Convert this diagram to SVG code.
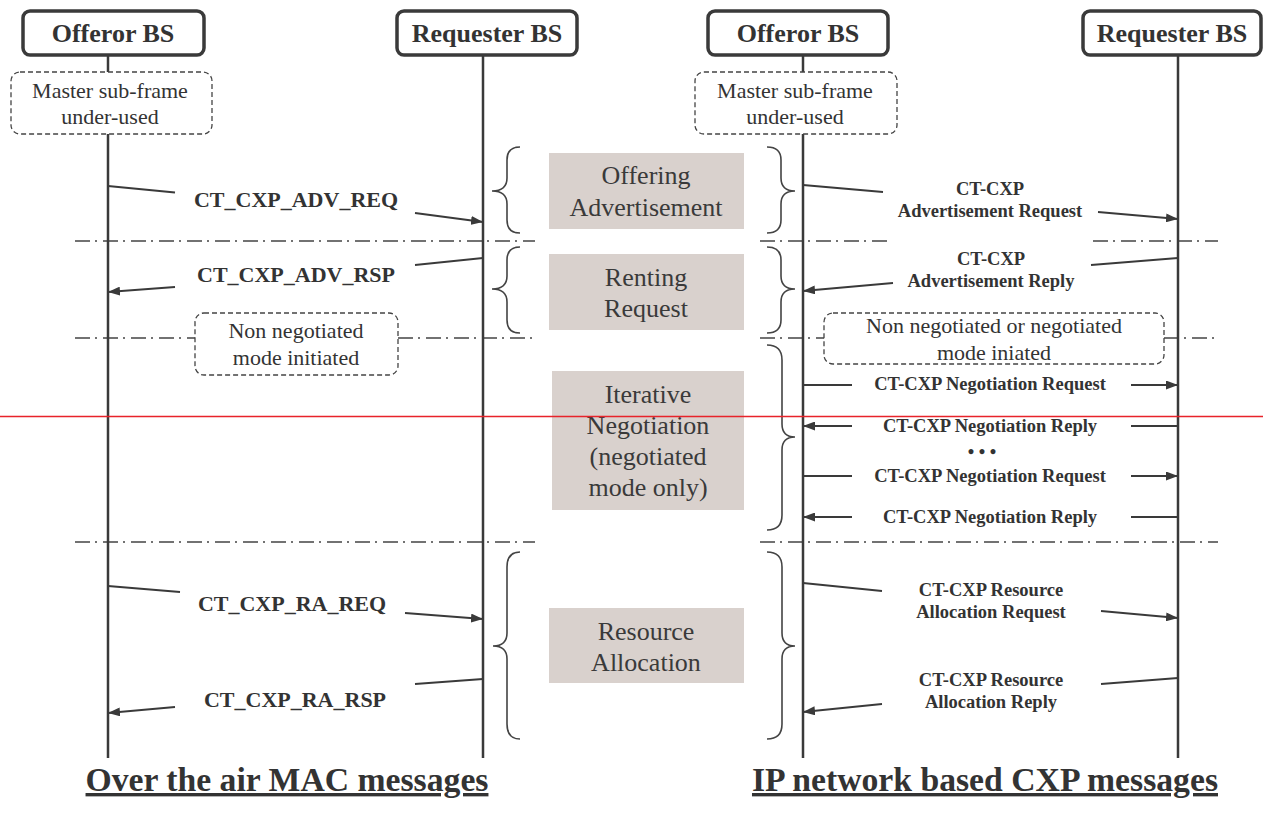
<svg xmlns="http://www.w3.org/2000/svg" width="1263" height="814" viewBox="0 0 1263 814">
<style>
.hdr{fill:#fff;stroke:#3a3a3a;stroke-width:3.5}
.hdrt{font-family:"Liberation Serif",serif;font-weight:bold;font-size:26px;fill:#333;text-anchor:middle}
.life{stroke:#3a3a3a;stroke-width:2.5;fill:none}
.note{fill:#fff;stroke:#444;stroke-width:1.3;stroke-dasharray:5 3}
.notet{font-family:"Liberation Serif",serif;font-size:22px;fill:#333;text-anchor:middle}
.sep{stroke:#444;stroke-width:1.5;stroke-dasharray:15 5 2 6;fill:none}
.brace{stroke:#444;stroke-width:1.6;fill:none}
.phase{fill:#d9d1cd}
.phaset{font-family:"Liberation Serif",serif;font-size:26px;fill:#3a3a3a;text-anchor:middle}
.msg{stroke:#3a3a3a;stroke-width:1.8;fill:none}
.ml{font-family:"Liberation Serif",serif;font-weight:bold;font-size:22px;fill:#333;text-anchor:middle}
.mr{font-family:"Liberation Serif",serif;font-weight:bold;font-size:18.5px;fill:#333;text-anchor:middle}
.title{font-family:"Liberation Serif",serif;font-weight:bold;font-size:33.7px;fill:#333;text-anchor:middle;text-decoration:underline}
</style>
<defs>
<marker id="ah" markerWidth="13" markerHeight="9" refX="12" refY="4.5" orient="auto" markerUnits="userSpaceOnUse"><path d="M0,0 L12,4.5 L0,9 z" fill="#3a3a3a"/></marker>
</defs>
<rect width="1263" height="814" fill="#fff"/>

<g id="separators">
<line class="sep" x1="75" y1="241" x2="535" y2="241"/>
<line class="sep" x1="760" y1="241" x2="892" y2="241"/>
<line class="sep" x1="1093" y1="241" x2="1218" y2="241"/>
<line class="sep" x1="75" y1="338" x2="195" y2="338"/>
<line class="sep" x1="398" y1="338" x2="535" y2="338"/>
<line class="sep" x1="760" y1="338" x2="824" y2="338"/>
<line class="sep" x1="1164" y1="338" x2="1218" y2="338"/>
<line class="sep" x1="75" y1="542" x2="535" y2="542"/>
<line class="sep" x1="760" y1="542" x2="1218" y2="542"/>
</g>

<g id="lifelines">
<line class="life" x1="108" y1="55" x2="108" y2="72"/>
<line class="life" x1="108" y1="134" x2="108" y2="758"/>
<line class="life" x1="483" y1="55" x2="483" y2="758"/>
<line class="life" x1="803" y1="55" x2="803" y2="72"/>
<line class="life" x1="803" y1="134" x2="803" y2="758"/>
<line class="life" x1="1178" y1="55" x2="1178" y2="758"/>
</g>

<g id="offeror-bs-left"><rect class="hdr" x="23" y="11" width="181" height="44" rx="7"/><text class="hdrt" x="113" y="42">Offeror BS</text></g>
<g id="requester-bs-left"><rect class="hdr" x="397" y="11" width="180" height="44" rx="7"/><text class="hdrt" x="487" y="42">Requester BS</text></g>
<g id="offeror-bs-right"><rect class="hdr" x="708" y="11" width="180" height="44" rx="7"/><text class="hdrt" x="798" y="42">Offeror BS</text></g>
<g id="requester-bs-right"><rect class="hdr" x="1083" y="11" width="178" height="44" rx="7"/><text class="hdrt" x="1172" y="42">Requester BS</text></g>

<g id="note-master-left"><rect class="note" x="11" y="72" width="201" height="62" rx="9"/><text class="notet" x="110" y="98">Master sub-frame</text><text class="notet" x="110" y="124">under-used</text></g>
<g id="note-master-right"><rect class="note" x="695" y="72" width="202" height="62" rx="9"/><text class="notet" x="795" y="98">Master sub-frame</text><text class="notet" x="795" y="124">under-used</text></g>
<g id="note-nonneg-left"><rect class="note" x="195" y="313" width="203" height="62" rx="9"/><text class="notet" x="296" y="338" font-size="23">Non negotiated</text><text class="notet" x="296" y="365" font-size="23">mode initiated</text></g>
<g id="note-nonneg-right"><rect class="note" x="824" y="313" width="340" height="51" rx="9"/><text class="notet" x="994" y="333" font-size="23">Non negotiated or negotiated</text><text class="notet" x="994" y="360" font-size="23">mode iniated</text></g>

<g id="phase-offering"><rect class="phase" x="549" y="153" width="195" height="76"/><text class="phaset" x="646" y="184">Offering</text><text class="phaset" x="646" y="216">Advertisement</text></g>
<g id="phase-renting"><rect class="phase" x="549" y="254" width="195" height="76"/><text class="phaset" x="646" y="286">Renting</text><text class="phaset" x="646" y="317">Request</text></g>
<g id="phase-negotiation"><rect class="phase" x="552" y="371" width="192" height="139"/><text class="phaset" x="648" y="403">Iterative</text><text class="phaset" x="648" y="434">Negotiation</text><text class="phaset" x="648" y="465">(negotiated</text><text class="phaset" x="648" y="496">mode only)</text></g>
<g id="phase-resource"><rect class="phase" x="549" y="608" width="195" height="75"/><text class="phaset" x="646" y="640">Resource</text><text class="phaset" x="646" y="671">Allocation</text></g>

<g id="braces">
<path class="brace" d="M520,147 Q507,147 507,160 L507,178 Q507,191 492,191 Q507,191 507,204 L507,220 Q507,233 520,233"/>
<path class="brace" d="M767,147 Q781,147 781,160 L781,178 Q781,191 795,191 Q781,191 781,204 L781,220 Q781,233 767,233"/>
<path class="brace" d="M520,247 Q507,247 507,260 L507,276 Q507,289 492,289 Q507,289 507,302 L507,320 Q507,333 520,333"/>
<path class="brace" d="M767,247 Q781,247 781,260 L781,276 Q781,289 795,289 Q781,289 781,302 L781,320 Q781,333 767,333"/>
<path class="brace" d="M767,345 Q782,345 782,360 L782,424 Q782,437 795,437 Q782,437 782,450 L782,515 Q782,530 767,530"/>
<path class="brace" d="M520,552 Q507,552 507,567 L507,633 Q507,646 493,646 Q507,646 507,659 L507,724 Q507,739 520,739"/>
<path class="brace" d="M767,552 Q782,552 782,567 L782,633 Q782,646 795,646 Q782,646 782,659 L782,724 Q782,739 767,739"/>
</g>

<g id="connectors">
<line class="msg" x1="108" y1="186" x2="175" y2="192.5"/>
<line class="msg" x1="415" y1="213" x2="483" y2="222" marker-end="url(#ah)"/>
<line class="msg" x1="483" y1="258" x2="415" y2="265"/>
<line class="msg" x1="175" y1="287" x2="108" y2="292" marker-end="url(#ah)"/>
<line class="msg" x1="108" y1="586" x2="180" y2="592"/>
<line class="msg" x1="405" y1="613" x2="483" y2="619" marker-end="url(#ah)"/>
<line class="msg" x1="483" y1="679" x2="415" y2="684"/>
<line class="msg" x1="175" y1="707" x2="108" y2="713" marker-end="url(#ah)"/>

<line class="msg" x1="803" y1="185" x2="883" y2="192"/>
<line class="msg" x1="1098" y1="212" x2="1178" y2="219" marker-end="url(#ah)"/>
<line class="msg" x1="1178" y1="258" x2="1091" y2="265"/>
<line class="msg" x1="893" y1="283" x2="803" y2="291" marker-end="url(#ah)"/>
<line class="msg" x1="803" y1="385" x2="852" y2="385"/>
<line class="msg" x1="1131" y1="385" x2="1178" y2="385" marker-end="url(#ah)"/>
<line class="msg" x1="1178" y1="426" x2="1131" y2="426"/>
<line class="msg" x1="852" y1="426" x2="803" y2="426" marker-end="url(#ah)"/>
<line class="msg" x1="803" y1="476" x2="852" y2="476"/>
<line class="msg" x1="1131" y1="476" x2="1178" y2="476" marker-end="url(#ah)"/>
<line class="msg" x1="1178" y1="517" x2="1131" y2="517"/>
<line class="msg" x1="852" y1="517" x2="803" y2="517" marker-end="url(#ah)"/>
<line class="msg" x1="803" y1="583" x2="882" y2="591"/>
<line class="msg" x1="1101" y1="611" x2="1178" y2="618" marker-end="url(#ah)"/>
<line class="msg" x1="1178" y1="678" x2="1101" y2="684"/>
<line class="msg" x1="882" y1="704" x2="803" y2="712" marker-end="url(#ah)"/>
</g>

<g id="message-labels">
<text class="ml" x="296" y="207">CT_CXP_ADV_REQ</text>
<text class="ml" x="296" y="282">CT_CXP_ADV_RSP</text>
<text class="ml" x="292" y="611">CT_CXP_RA_REQ</text>
<text class="ml" x="295" y="707">CT_CXP_RA_RSP</text>
<text class="mr" x="990" y="195">CT-CXP</text>
<text class="mr" x="990" y="217">Advertisement Request</text>
<text class="mr" x="991" y="265">CT-CXP</text>
<text class="mr" x="991" y="287">Advertisement Reply</text>
<text class="mr" x="990" y="390">CT-CXP Negotiation Request</text>
<text class="mr" x="990" y="432">CT-CXP Negotiation Reply</text>
<text class="mr" x="982" y="458" font-size="20">• • •</text>
<text class="mr" x="990" y="482">CT-CXP Negotiation Request</text>
<text class="mr" x="990" y="523">CT-CXP Negotiation Reply</text>
<text class="mr" x="991" y="596">CT-CXP Resource</text>
<text class="mr" x="991" y="618">Allocation Request</text>
<text class="mr" x="991" y="686">CT-CXP Resource</text>
<text class="mr" x="991" y="708">Allocation Reply</text>
</g>

<line id="red-line" x1="0" y1="416.5" x2="1263" y2="416.5" stroke="#e8232a" stroke-width="1.5"/>

<g id="titles">
<text class="title" x="287" y="791">Over the air MAC messages</text>
<text class="title" x="985" y="791">IP network based CXP messages</text>
</g>
</svg>
